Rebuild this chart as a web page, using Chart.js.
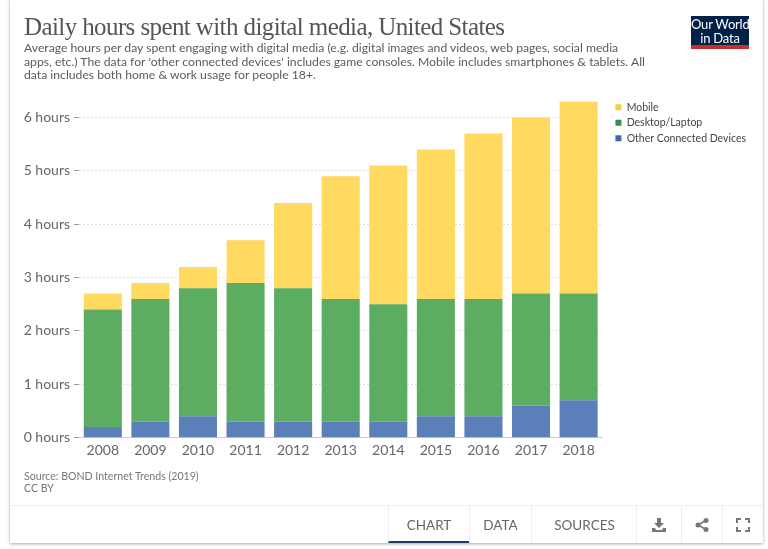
<!DOCTYPE html>
<html><head><meta charset="utf-8">
<script src="https://cdn.jsdelivr.net/npm/chart.js@4"></script>
<style>
html,body{margin:0;padding:0;background:#fff;width:768px;height:549px;overflow:hidden}
#card{position:absolute;left:10px;top:-2px;width:753px;height:545px;background:#fff;box-shadow:0 1px 3px rgba(0,0,0,.35)}
canvas{position:absolute;left:0;top:0}
.t{position:absolute;white-space:nowrap;font-family:Lato,sans-serif}
#title{left:24px;top:13px;font:25px "Liberation Serif",serif;color:#555;letter-spacing:-.6px}
.sub{left:24px;font-size:12.2px;color:#5b5b5b;line-height:15px}
.src{left:24px;font-size:10.6px;color:#777}
#logo{position:absolute;left:691px;top:16px;width:58px;height:29px;background:#002147;border-bottom:4px solid #c4302b;color:#fff;font:13px/13.5px Lato,sans-serif;text-align:center;letter-spacing:-.2px;white-space:nowrap}
#logo div{padding-top:2px}
#foot{position:absolute;left:10px;top:505px;width:753px;height:38px;border-top:1px solid #eee}
.tab{position:absolute;top:0;height:37px;font:13.5px/38px Lato,sans-serif;color:#666;text-align:center;border-left:1px solid #eee;box-sizing:border-box}
.tab svg{margin-top:12px}
</style></head><body>
<div id="card"></div>
<canvas id="c" width="768" height="549"></canvas>
<div class="t" id="title">Daily hours spent with digital media, United States</div>
<div class="t sub" style="top:40px">Average hours per day spent engaging with digital media (e.g. digital images and videos, web pages, social media</div>
<div class="t sub" style="top:54px">apps, etc.) The data for 'other connected devices' includes game consoles. Mobile includes smartphones &amp; tablets. All</div>
<div class="t sub" style="top:67px">data includes both home &amp; work usage for people 18+.</div>
<div class="t src" style="top:470px">Source: BOND Internet Trends (2019)</div>
<div class="t src" style="top:482px">CC BY</div>
<div id="logo"><div>Our World<br>in Data</div></div>
<div id="foot">
<div class="tab" style="left:378px;width:81px;border-bottom:2px solid #1d3d63">CHART</div>
<div class="tab" style="left:459px;width:62px">DATA</div>
<div class="tab" style="left:521px;width:106px">SOURCES</div>
<div class="tab" style="left:626px;width:45px"><svg width="14" height="14" viewBox="0 0 14 14"><path d="M5 0h4v5h3L7 10 2 5h3zM0 10h3l1 2h6l1-2h3v4H0z" fill="#777"/></svg></div>
<div class="tab" style="left:671px;width:41px"><svg width="14" height="14" viewBox="0 0 14 14"><circle cx="11" cy="2.500" r="2.500" fill="#777"/><circle cx="3" cy="7" r="2.500" fill="#777"/><circle cx="11" cy="11.500" r="2.500" fill="#777"/><path d="M11 2.500L3 7l8 4.500" stroke="#777" stroke-width="1.500" fill="none"/></svg></div>
<div class="tab" style="left:712px;width:41px"><svg width="14" height="14" viewBox="0 0 14 14"><path d="M1 5V1h4M9 1h4v4M13 9v4H9M5 13H1V9" stroke="#777" stroke-width="2" fill="none"/></svg></div>
</div>
<script>
const years = ['2008','2009','2010','2011','2012','2013','2014','2015','2016','2017','2018'];
const otherDevices = [0.2,0.3,0.4,0.3,0.3,0.3,0.3,0.4,0.4,0.6,0.7];
const desktopLaptop = [2.2,2.3,2.4,2.6,2.5,2.3,2.2,2.2,2.2,2.1,2.0];
const mobile = [0.3,0.3,0.4,0.8,1.6,2.3,2.6,2.8,3.1,3.3,3.6];
const seriesNames = ['Other Connected Devices','Desktop/Laptop','Mobile'];
const barColors = ['#5b7fb9','#5cad62','#ffd960'];
const keyColors = ['#3f68a8','#3c8e46','#f2cf3f'];
const legendNudge = {id:'legendNudge',afterLayout(ch){ch.legend.top-=4.5;ch.legend.left+=8;}};
new Chart(document.getElementById('c'),{
 type:'bar',
 plugins:[legendNudge],
 data:{labels:years,datasets:[otherDevices,desktopLaptop,mobile].map((d,i)=>({label:seriesNames[i],data:d,backgroundColor:barColors[i],categoryPercentage:1,barPercentage:0.8,borderWidth:0}))},
 options:{responsive:false,animation:false,devicePixelRatio:1,
  layout:{padding:{left:24,top:101.5,right:20,bottom:86.5}},
  plugins:{tooltip:{enabled:false},
   legend:{position:'right',align:'start',reverse:true,
    labels:{usePointStyle:true,pointStyle:'rect',boxWidth:6,boxHeight:6,padding:5,color:'#444',font:{family:'Lato',size:10.5},
     generateLabels(ch){return ch.data.datasets.map((d,i)=>({text:d.label,fillStyle:keyColors[i],strokeStyle:keyColors[i],lineWidth:0,pointStyle:'rect',datasetIndex:i,fontColor:'#444'}));}}}},
  scales:{
   x:{stacked:true,grid:{display:false,drawTicks:false},border:{color:'#ccc'},ticks:{color:'#666',padding:4,font:{family:'Lato',size:14},maxRotation:0}},
   y:{stacked:true,min:0,max:6.3,afterFit(s){s.width=55;},
    grid:{color:'#ddd',tickColor:'#999',tickLength:5},border:{display:false,dash:[2,2]},
    ticks:{stepSize:1,includeBounds:false,color:'#666',padding:4,font:{family:'Lato',size:14},callback:v=>v+' hours'}}
  }}
});
</script>
</body></html>
